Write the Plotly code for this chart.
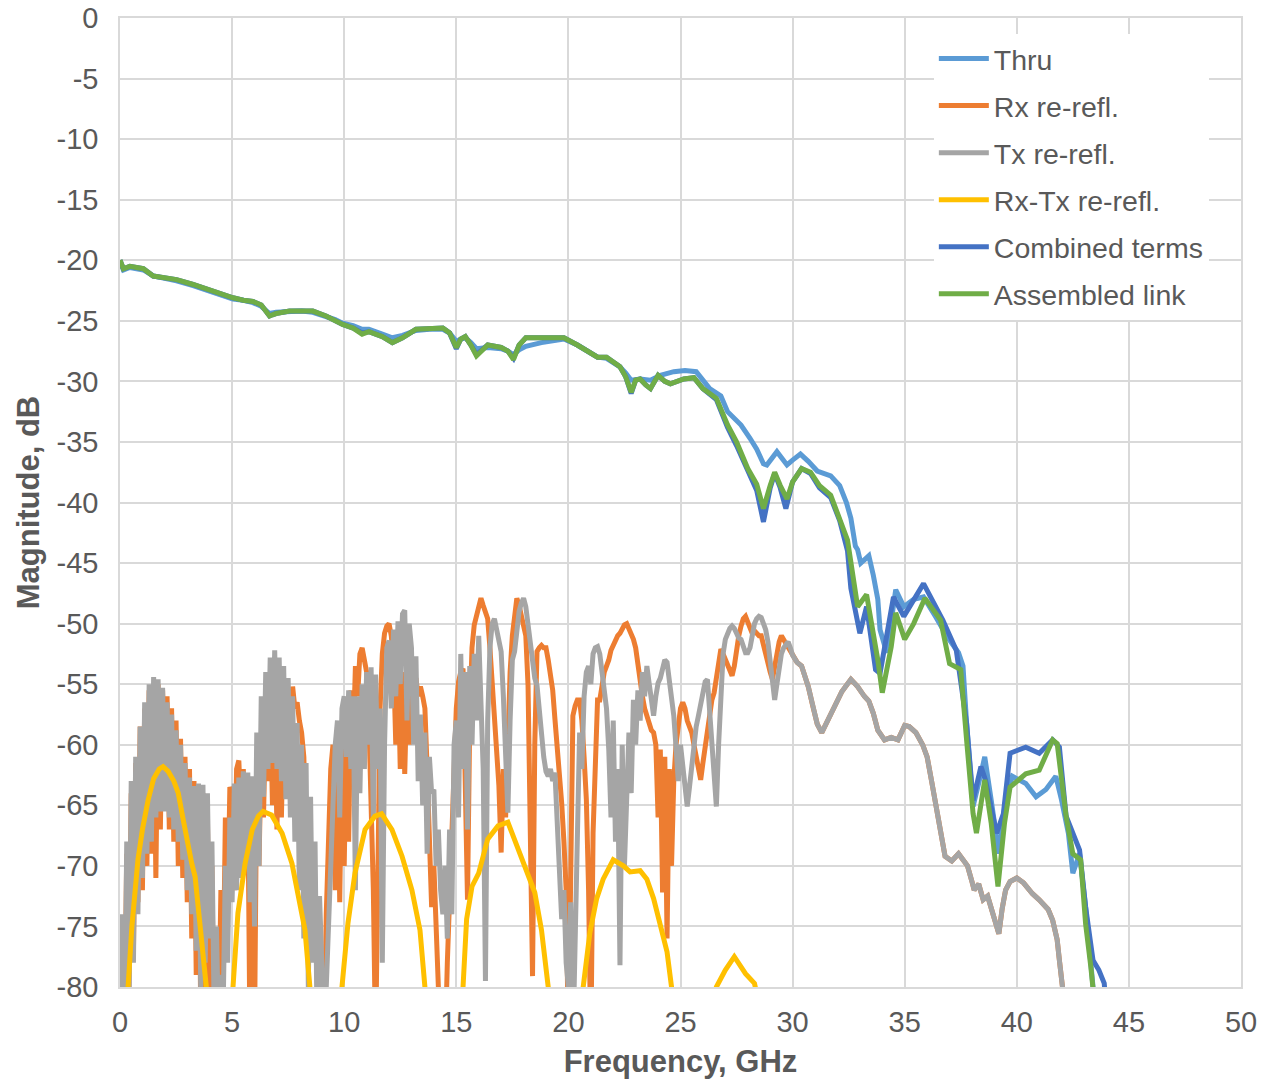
import plotly.graph_objects as go

# ---------------- data ----------------
thru_pts = [(0.0,-20.1),(0.15,-20.8),(0.44,-20.6),(1.04,-20.8),(1.48,-21.3),(2.0,-21.5),(2.52,-21.7),(3.26,-22.1),
    (4.0,-22.6),(4.5,-22.9),(5.04,-23.2),(5.5,-23.3),(5.93,-23.5),(6.3,-23.8),(6.5,-24.1),(6.67,-24.4),(6.96,-24.3),
    (7.56,-24.2),(8.1,-24.2),(8.6,-24.3),(9.19,-24.6),(9.6,-24.9),(9.93,-25.2),(10.4,-25.4),(10.8,-25.7),(11.1,-25.7),
    (11.7,-26.1),(12.15,-26.4),(12.6,-26.2),(13.2,-25.8),(13.8,-25.7),(14.4,-25.7),(14.7,-26.0),(15.0,-26.7),(15.2,-26.5),
    (15.4,-26.4),(15.65,-26.8),(15.9,-27.3),(16.4,-27.2),(17.0,-27.3),(17.3,-27.5),(17.55,-27.8),(17.8,-27.4),(18.1,-27.1),
    (18.8,-26.8),(19.55,-26.5),(19.8,-26.5),(20.4,-27.0),(20.9,-27.5),(21.3,-28.0),(21.7,-28.1),(22.3,-28.8),(22.55,-29.3),
    (22.8,-29.9),(23.2,-29.8),(23.66,-29.9),(24.1,-29.5),(24.7,-29.2),(25.2,-29.1),(25.7,-29.2),(26.3,-30.6),(26.8,-31.2),
    (27.1,-32.5),(27.7,-33.6),(28.1,-34.7),(28.4,-35.6),(28.7,-36.8),(28.85,-36.9),(29.3,-35.8),(29.75,-36.9),(30.0,-36.5),
    (30.35,-36.0),(30.7,-36.6),(31.1,-37.4),(31.7,-37.8),(32.1,-38.6),(32.4,-40.0),(32.6,-41.3),(32.8,-43.6),(32.9,-43.9),
    (33.04,-45.0),(33.4,-44.4),(33.6,-46.0),(33.8,-48.0),(33.9,-50.5),(34.2,-52.4),(34.6,-47.2),(34.96,-48.6),(35.4,-48.0),
    (35.84,-47.8),(36.4,-49.5),(36.9,-51.1),(37.4,-52.4),(37.6,-53.5),(37.76,-58.2),(38.05,-65.1),(38.4,-62.4),(38.57,-61.0),
    (38.86,-64.6),(39.2,-69.0),(39.5,-64.6),(39.8,-62.6),(40.4,-63.2),(40.86,-64.3),(41.3,-63.7),(41.74,-62.6),(42.0,-64.6),
    (42.3,-67.3),(42.5,-70.6),(42.8,-69.0),(43.07,-73.4),(43.3,-77.5),(43.4,-80.0),(43.5,-82.0)]

assembled_pts = [(0.0,-20.0),(0.15,-20.7),(0.44,-20.5),(1.04,-20.7),(1.48,-21.3),(2.0,-21.4),(2.52,-21.6),(3.26,-22.0),
    (4.0,-22.5),(4.5,-22.8),(5.04,-23.1),(5.5,-23.3),(5.93,-23.4),(6.3,-23.7),(6.5,-24.2),(6.67,-24.6),(6.8,-24.5),
    (6.96,-24.4),(7.56,-24.2),(8.1,-24.2),(8.6,-24.2),(9.19,-24.6),(9.6,-25.0),(9.93,-25.3),(10.4,-25.6),(10.8,-26.1),
    (11.1,-25.9),(11.7,-26.3),(12.15,-26.8),(12.6,-26.4),(13.2,-25.7),(13.8,-25.6),(14.4,-25.6),(14.7,-26.0),(15.0,-27.2),
    (15.2,-26.5),(15.4,-26.3),(15.65,-27.0),(15.9,-27.9),(16.4,-27.0),(17.0,-27.2),(17.3,-27.5),(17.55,-28.2),(17.8,-27.0),
    (18.1,-26.4),(18.8,-26.4),(19.55,-26.4),(19.8,-26.4),(20.4,-27.0),(20.9,-27.5),(21.3,-28.0),(21.7,-28.0),(22.3,-28.8),
    (22.55,-29.6),(22.8,-30.9),(23.0,-29.9),(23.2,-29.8),(23.45,-30.3),(23.66,-30.6),(24.0,-29.5),(24.3,-30.0),(24.55,-30.2),
    (25.15,-29.8),(25.6,-29.7),(26.0,-30.6),(26.6,-31.4),(27.1,-33.6),(27.5,-35.0),(28.0,-37.2),(28.4,-38.5),(28.7,-40.5),
    (29.0,-38.6),(29.2,-37.5),(29.45,-38.6),(29.75,-39.7),(30.0,-38.3),(30.4,-37.2),(30.8,-37.5),(31.2,-38.6),(31.7,-39.4),
    (32.1,-41.3),(32.45,-43.1),(32.9,-48.6),(33.3,-47.6),(33.8,-53.0),(34.0,-55.7),(34.4,-51.9),(34.6,-49.1),(35.0,-51.3),
    (35.4,-50.0),(35.9,-47.9),(36.6,-49.7),(37.0,-53.3),(37.5,-53.8),(37.76,-59.6),(38.05,-65.7),(38.2,-67.3),(38.57,-62.9),
    (38.86,-66.5),(39.16,-71.7),(39.45,-66.5),(39.7,-63.5),(40.4,-62.4),(41.0,-62.1),(41.6,-59.6),(41.8,-59.9),(42.2,-65.9),
    (42.5,-69.0),(42.85,-69.5),(43.07,-74.8),(43.3,-78.3),(43.4,-80.0),(43.5,-82.0)]

combined_pts = [(0.0,-20.0),(0.15,-20.7),(0.44,-20.5),(1.04,-20.7),(1.48,-21.3),(2.0,-21.4),(2.52,-21.6),(3.26,-22.0),
    (4.0,-22.5),(4.5,-22.8),(5.04,-23.1),(5.5,-23.3),(5.93,-23.4),(6.3,-23.7),(6.5,-24.2),(6.67,-24.6),(6.8,-24.5),
    (6.96,-24.4),(7.56,-24.2),(8.1,-24.2),(8.6,-24.2),(9.19,-24.6),(9.6,-25.0),(9.93,-25.3),(10.4,-25.6),(10.8,-26.0),
    (11.1,-25.9),(11.7,-26.3),(12.15,-26.8),(12.6,-26.4),(13.2,-25.7),(13.8,-25.6),(14.4,-25.6),(14.7,-26.0),(15.0,-27.3),
    (15.2,-26.5),(15.4,-26.3),(15.65,-27.0),(15.9,-27.8),(16.4,-27.0),(17.0,-27.2),(17.3,-27.5),(17.55,-28.1),(17.8,-27.0),
    (18.1,-26.4),(18.8,-26.4),(19.55,-26.4),(19.8,-26.4),(20.4,-27.0),(20.9,-27.5),(21.3,-28.0),(21.7,-28.0),(22.3,-28.8),
    (22.55,-29.6),(22.8,-31.0),(23.0,-29.9),(23.2,-29.8),(23.45,-30.3),(23.66,-30.6),(24.0,-29.5),(24.3,-30.0),(24.55,-30.2),
    (25.15,-29.8),(25.6,-29.7),(26.0,-30.6),(26.6,-31.5),(27.1,-33.8),(27.5,-35.3),(28.0,-37.5),(28.4,-39.0),(28.7,-41.6),
    (29.0,-38.8),(29.2,-37.6),(29.45,-38.8),(29.7,-40.5),(30.0,-38.3),(30.4,-37.2),(30.8,-37.6),(31.2,-38.8),(31.7,-39.6),
    (32.1,-41.5),(32.45,-44.0),(32.6,-47.1),(33.0,-50.8),(33.3,-48.6),(33.7,-53.8),(33.9,-54.1),(34.5,-47.8),(34.96,-49.4),
    (35.4,-48.0),(35.84,-46.7),(36.7,-49.7),(37.3,-52.2),(37.76,-58.2),(38.05,-64.6),(38.4,-61.8),(38.6,-62.9),(39.1,-67.3),
    (39.4,-65.7),(39.7,-60.7),(40.4,-60.2),(41.0,-60.7),(41.6,-59.6),(41.9,-60.2),(42.2,-65.9),(42.8,-68.7),(43.07,-73.4),
    (43.4,-77.8),(43.66,-78.6),(43.9,-79.7),(44.0,-82.0)]

# Rx / Tx re-reflection, 0.0 .. 29.9 GHz every 0.1 GHz (one row per GHz)
rx_lo = [
    -85,-75,-84,-69,-80,-64,-77,-61.5,-73,-58.5,
    -72,-57,-70,-55.5,-69,-55,-71,-55,-67,-55.5,
    -65,-56,-67,-57,-68,-58,-70,-59.5,-71,-61,
    -73,-62,-76,-63,-79,-63.5,-82,-64,-80,-66,
    -84,-70,-86,-76,-84,-72,-80,-66,-74,-63.5,
    -64,-72,-62,-61.3,-66,-62,-70,-64,-85,-66,
    -84,-62,-70,-60,-66,-57,-63,-56,-65,-56.5,
    -67,-56,-66,-57,-64,-56,-60,-55.2,-57,-56.5,
    -58,-59,-61,-67.6,-65,-72,-69,-76,-73,-84,
    -78,-85,-74,-68,-62,-60,-72,-58.5,-73,-60,
    -70,-59,-68,-55.5,-60,-53.5,-56,-52.5,-52,-53,
    -54,-58,-64,-72,-85,-66,-57,-52.5,-50.8,-50.2,
    -50,-51,-53,-60,-53,-62,-54,-62.4,-55,-60,
    -54,-59,-54.5,-56,-55.2,-56,-57,-62,-68,-73.4,
    -70,-74,-80,-85,-84,-85,-78,-72,-66,-60,
    -57,-54.8,-54,-53.7,-62,-72.8,-58,-52,-50.1,-49.2,
    -48.5,-47.9,-48.5,-49,-49.6,-52,-55,-57.9,-62,-63.4,
    -68.9,-62,-66,-58,-54,-51,-49,-47.9,-48.5,-49.5,
    -50.5,-51,-55.1,-68,-79.1,-60,-52.3,-52,-51.8,-52,
    -52,-53,-54.5,-55.5,-57.9,-60,-62.5,-64.8,-68,-72,
    -85,-66,-57.6,-56.8,-56.3,-56.3,-58,-61,-64.5,-72,
    -85,-67.3,-60,-56.3,-56.3,-55,-54,-53.5,-53,-52.2,
    -51.8,-51.3,-51,-50.8,-50.4,-50.1,-50,-50.4,-51,-51.3,
    -52,-53.5,-54.9,-56,-57,-57.6,-58.2,-58.8,-59,-60,
    -66,-60.4,-72.2,-61,-76,-62,-70,-63,-60,-58,
    -57,-56.5,-57,-58,-58.5,-59,-60,-61,-62,-62.9,
    -61.5,-60,-59,-57.5,-56.3,-55.7,-54.5,-53.2,-52.1,-52.5,
    -53,-53.5,-54,-54.3,-53.5,-52,-51,-50.2,-49.6,-49.4,
    -49.8,-50.3,-50.8,-50.6,-50.8,-51,-51,-51.8,-52.5,-53.5,
    -54,-54.6,-53.5,-52.5,-51.5,-51,-51.3,-51.6,-52,-52.3]

tx_lo = [
    -85,-74,-85,-68,-82,-63,-78,-61,-74,-58.5,
    -71,-56.5,-69,-55,-68,-54.4,-66,-54.6,-65.5,-55.3,
    -65.5,-56.5,-66,-57.5,-67,-58.8,-68,-60,-69.5,-61.5,
    -72,-62.7,-74,-63.4,-77,-63.2,-80,-63.3,-78,-64,
    -76,-68,-82,-75,-84,-79,-82,-70,-78,-66,
    -73,-63.2,-72,-62.7,-71,-62.2,-70,-62.3,-73,-62.6,
    -75,-59,-70,-56,-64.3,-54,-62,-52.8,-61.5,-52.2,
    -62,-52.8,-63,-53.5,-64.5,-54.5,-66,-56,-68,-58.2,
    -72,-60,-76,-61.5,-80,-64.3,-78,-68,-85,-72.5,
    -78,-85,-80,-74,-70,-65,-60,-58,-66,-57,
    -56,-61,-55.5,-62,-56,-72,-56,-64,-55,-62,
    -54,-60,-53.6,-66,-54.2,-62,-57,-78,-60,-52,
    -51.4,-57,-50.5,-56,-49.8,-55,-49.2,-48.9,-58,-50,
    -52,-60,-52.7,-63,-57.5,-65,-59,-69,-61,-64,
    -63.7,-70,-67,-72,-74,-70,-76,-67,-74,-60,
    -58,-66,-52.5,-62,-54,-67,-53.5,-60,-52.5,-58,
    -51,-56,-62,-79.5,-58,-52,-50,-49.6,-50.5,-51.5,
    -52.3,-56,-62,-65.6,-58,-53,-52.3,-50.5,-49,-48.3,
    -47.9,-48.6,-50,-51,-53,-54.5,-55.1,-57.5,-59.3,-61,
    -62.2,-62.6,-62,-63,-62.3,-67,-70.3,-74.4,-72,-78,
    -80,-73,-85,-75.5,-66,-59,-62,-56,-54,-53.5,
    -55,-52.5,-52,-51.9,-52.5,-54,-55,-57,-60.4,-66,
    -58,-68,-62,-78.2,-60,-70,-64.5,-59,-64,-56.3,
    -60,-55.5,-58,-54,-56,-53.5,-54.9,-56.5,-57.6,-56,
    -54.9,-54.5,-53.5,-53,-53.2,-54.5,-56,-57.6,-60.2,-63,
    -60,-62,-64,-65.1,-63.5,-61.8,-60,-58.5,-57.6,-56.5,
    -55.5,-54.8,-54.6,-57,-60.4,-63,-65.1,-60,-55,-52.5,
    -51.3,-50.8,-50.4,-50.2,-50.4,-50.8,-51.2,-51.3,-52,-52.4,
    -52.4,-52,-51,-50,-49.6,-49.4,-49.5,-50,-50.5,-51.5,
    -53,-55,-56.3,-55,-53.5,-52.5,-52,-51.7,-51.5,-52]

# common high-frequency tail of both re-reflection terms
rerefl_tail_pts = [(30.0,-52.6),(30.2,-53.2),(30.4,-53.5),(30.7,-55.2),(30.9,-56.8),(31.1,-58.3),(31.3,-59.0),
    (31.5,-58.2),(31.7,-57.5),(31.9,-56.8),(32.2,-55.6),(32.6,-54.6),(32.9,-55.2),(33.2,-56.0),(33.4,-56.4),(33.6,-57.4),
    (33.8,-58.8),(34.1,-59.6),(34.4,-59.4),(34.7,-59.6),(35.0,-58.4),(35.2,-58.5),(35.5,-59.0),(35.8,-60.0),(36.0,-61.0),
    (36.2,-63.0),(36.4,-65.1),(36.6,-67.2),(36.8,-69.2),(37.1,-69.6),(37.4,-69.0),(37.6,-69.5),(37.8,-70.0),(38.0,-71.3),
    (38.1,-72.0),(38.3,-71.5),(38.5,-72.8),(38.7,-72.5),(38.9,-73.8),(39.0,-74.5),(39.2,-75.6),(39.35,-73.5),(39.5,-72.0),
    (39.7,-71.3),(40.0,-71.0),(40.3,-71.4),(40.7,-72.3),(41.0,-72.8),(41.4,-73.6),(41.6,-74.5),(41.8,-76.1),(41.9,-77.8),
    (42.0,-79.2),(42.1,-81.0)]

rxtx_pts = [(0.2,-95),(0.36,-80),(0.53,-75),(0.8,-69.5),(1.0,-67),(1.25,-64.6),(1.5,-62.8),(1.75,-62),(1.92,-61.8),
    (2.15,-62.2),(2.4,-63),(2.6,-64),(2.8,-66),(3.0,-68.2),(3.2,-69.8),(3.35,-70.9),(3.5,-73.5),(3.65,-76.5),(3.85,-80),(4.0,-95),
    (4.9,-95),(5.04,-80),(5.26,-73.9),(5.58,-69.8),(5.9,-67),(6.17,-65.9),(6.38,-65.5),(6.76,-65.8),(7.23,-67.3),(7.67,-69.8),
    (7.95,-72.5),(8.25,-75.3),(8.47,-80),(8.6,-95),
    (9.75,-95),(9.9,-80),(10.17,-74.7),(10.48,-70.6),(10.93,-67),(11.37,-65.9),(11.67,-65.7),(12.13,-67),(12.58,-69.2),
    (13.02,-72),(13.38,-75.3),(13.6,-80),(13.75,-95),
    (15.15,-95),(15.3,-80),(15.46,-74.4),(15.7,-71.7),(16.0,-70.6),(16.4,-67.8),(16.86,-66.7),(17.3,-66.4),(17.7,-68.4),
    (18.07,-70),(18.5,-72.2),(18.8,-75.3),(19.1,-80),(19.25,-95),
    (20.5,-95),(20.66,-80),(20.96,-75.5),(21.26,-72.7),(21.55,-71.1),(22.0,-69.5),(22.45,-70),(22.75,-70.5),(23.2,-70.4),
    (23.5,-71.1),(23.8,-72.7),(24.1,-74.9),(24.4,-77.1),(24.6,-80),(24.75,-95),
    (26.45,-95),(26.6,-80),(27.0,-78.6),(27.4,-77.5),(27.9,-78.9),(28.3,-79.7),(28.45,-81),(28.6,-95)]

series_names = ["Thru", "Rx re-refl.", "Tx re-refl.", "Rx-Tx re-refl.", "Combined terms", "Assembled link"]
series_colors = ["#5B9BD5", "#ED7D31", "#A5A5A5", "#FFC000", "#4472C4", "#70AD47"]
x_ticks = list(range(0, 51, 5))
y_ticks = list(range(-80, 1, 5))
x_tick_labels = [str(v) for v in x_ticks]
y_tick_labels = [str(v) for v in y_ticks]

# ---------------- build ----------------
def unzip(pts):
    return [p[0] for p in pts], [p[1] for p in pts]

lo_freq = [round(i * 0.1, 1) for i in range(len(tx_lo))]
tail_x, tail_y = unzip(rerefl_tail_pts)

series_xy = [
    unzip(thru_pts),
    (lo_freq + tail_x, rx_lo + tail_y),
    (lo_freq + tail_x, tx_lo + tail_y),
    unzip(rxtx_pts),
    unzip(combined_pts),
    unzip(assembled_pts),
]

fig = go.Figure()
for name, color, (xs, ys) in zip(series_names, series_colors, series_xy):
    fig.add_trace(go.Scatter(x=xs, y=ys, mode="lines", name=name, legendgroup=name,
                             line=dict(color=color, width=5)))

grid = "#D9D9D9"
txt = "#595959"
fig.update_layout(
    width=1263, height=1081,
    margin=dict(l=120, r=22, t=18, b=94),
    paper_bgcolor="white", plot_bgcolor="white",
    font=dict(family="Liberation Sans, Arial, sans-serif", color=txt, size=29),
    showlegend=True,
    legend=dict(x=0.726, y=0.984, xanchor="left", yanchor="top", bgcolor="white",
                font=dict(size=28.5, color=txt), traceorder="grouped", tracegroupgap=7,
                itemwidth=50),
)
fig.update_xaxes(range=[0, 50], tickvals=x_ticks, ticktext=x_tick_labels, showgrid=True,
                 gridcolor=grid, gridwidth=1.5, automargin=False,
                 showline=True, linecolor=grid, linewidth=1.5, mirror=True, zeroline=False,
                 ticks="", ticklabelstandoff=8, tickfont=dict(size=29, color=txt),
                 title=dict(text="<b>Frequency, GHz</b>", font=dict(size=31, color=txt), standoff=14))
fig.update_yaxes(range=[-80, 0], tickvals=y_ticks, ticktext=y_tick_labels, showgrid=True,
                 gridcolor=grid, gridwidth=1.5, automargin=False,
                 showline=True, linecolor=grid, linewidth=1.5, mirror=True, zeroline=False,
                 ticks="", ticklabelstandoff=14, tickfont=dict(size=29, color=txt),
                 title=dict(text="<b>Magnitude, dB</b>", font=dict(size=31, color=txt), standoff=8))

fig.write_html("out.html")
